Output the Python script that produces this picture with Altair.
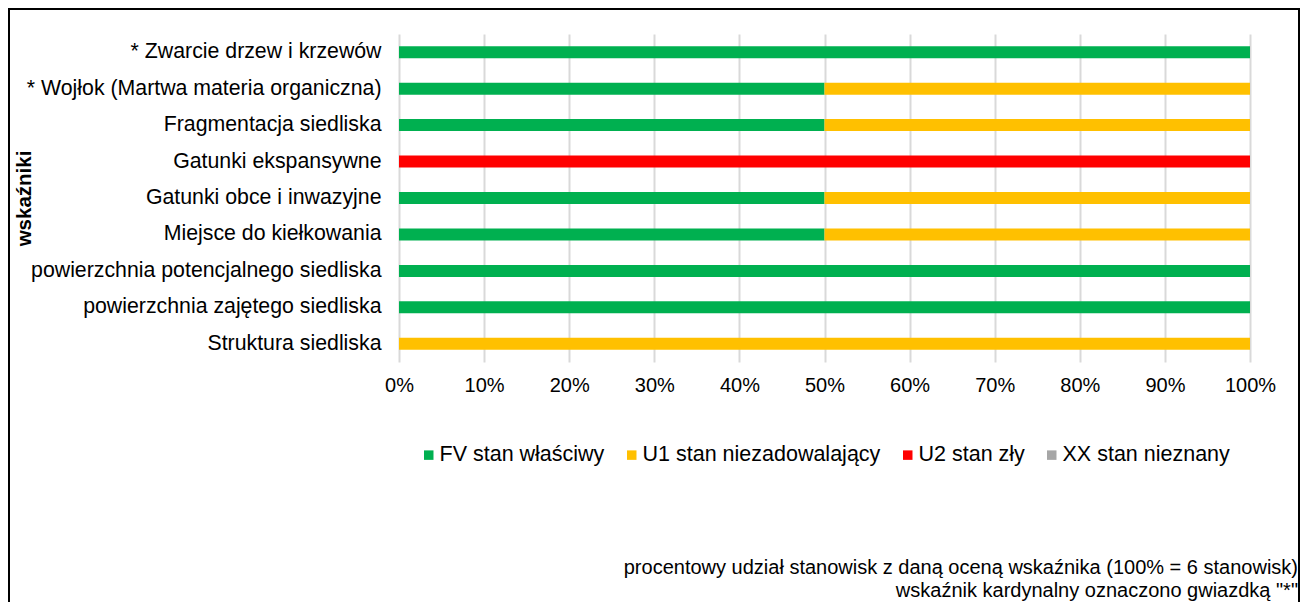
import altair as alt
import pandas as pd

categories = [
    "* Zwarcie drzew i krzewów",
    "* Wojłok (Martwa materia organiczna)",
    "Fragmentacja siedliska",
    "Gatunki ekspansywne",
    "Gatunki obce i inwazyjne",
    "Miejsce do kiełkowania",
    "powierzchnia potencjalnego siedliska",
    "powierzchnia zajętego siedliska",
    "Struktura siedliska",
]
# number of sites (out of 6) per assessment
fv = [6, 3, 3, 0, 3, 3, 6, 6, 0]
u1 = [0, 3, 3, 0, 3, 3, 0, 0, 6]
u2 = [0, 0, 0, 6, 0, 0, 0, 0, 0]
xx = [0, 0, 0, 0, 0, 0, 0, 0, 0]

statuses = ["FV stan właściwy", "U1 stan niezadowalający", "U2 stan zły", "XX stan nieznany"]
colors = ["#00B050", "#FFC000", "#FF0000", "#A6A6A6"]

notes = [
    "procentowy udział stanowisk z daną oceną wskaźnika (100% = 6 stanowisk)",
    'wskaźnik kardynalny oznaczono gwiazdką "*"',
]

rows = []
for i, c in enumerate(categories):
    for k, (s, vals) in enumerate(zip(statuses, [fv, u1, u2, xx])):
        rows.append({"wskaźnik": c, "status": s, "order": k, "n": vals[i]})
df = pd.DataFrame(rows)

FONT = "Liberation Sans"

bars = alt.Chart(df).mark_bar(size=12).encode(
    y=alt.Y("wskaźnik:N", sort=categories,
            axis=alt.Axis(title="wskaźniki", titleFontWeight="bold", titleFontSize=20.5,
                          titleAngle=270, titleX=-375, titleBaseline="middle",
                          titleAlign="center", labelFontSize=21.3, labelPadding=18,
                          domain=False, ticks=False, grid=False, labelColor="#000000",
                          titleColor="#000000", labelLimit=600)),
    x=alt.X("n:Q", stack="normalize",
            scale=alt.Scale(domain=[0, 1]),
            axis=alt.Axis(title=None, format="%", values=[i / 10 for i in range(11)],
                          labelFontSize=20, labelPadding=13, labelFlush=False,
                          domain=False, ticks=False,
                          grid=True, gridColor="#D9D9D9", gridWidth=2,
                          labelColor="#000000")),
    color=alt.Color("status:N",
                    scale=alt.Scale(domain=statuses, range=colors),
                    legend=alt.Legend(title=None, orient="none", legendX=19, legendY=410,
                                      direction="horizontal", symbolType="square",
                                      symbolSize=90, symbolStrokeWidth=0,
                                      labelFontSize=21.5, labelColor="#000000",
                                      labelLimit=600,
                                      labelOffset=0, columnPadding=16, padding=0)),
    order=alt.Order("order:Q"),
)

notes_layer = alt.Chart(pd.DataFrame({"a": [0]})).mark_text(
    text=notes, align="right", baseline="middle", fontSize=20, lineHeight=23,
    color="#000000", font=FONT,
).encode(x=alt.value(899), y=alt.value(534))

frame = alt.Chart(pd.DataFrame({"a": [0]})).mark_rect(
    filled=False, stroke="#000000", strokeWidth=2,
).encode(x=alt.value(-390), x2=alt.value(900), y=alt.value(-25), y2=alt.value(700))

chart = alt.layer(bars, notes_layer, frame).properties(
    width=851, height=328,
    autosize=alt.AutoSizeParams(type="none"),
    padding={"left": 391, "top": 26, "right": 51, "bottom": 240},
).configure(font=FONT).configure_view(stroke=None)

chart.save("out.html", embed_options={"renderer": "svg", "actions": False})
